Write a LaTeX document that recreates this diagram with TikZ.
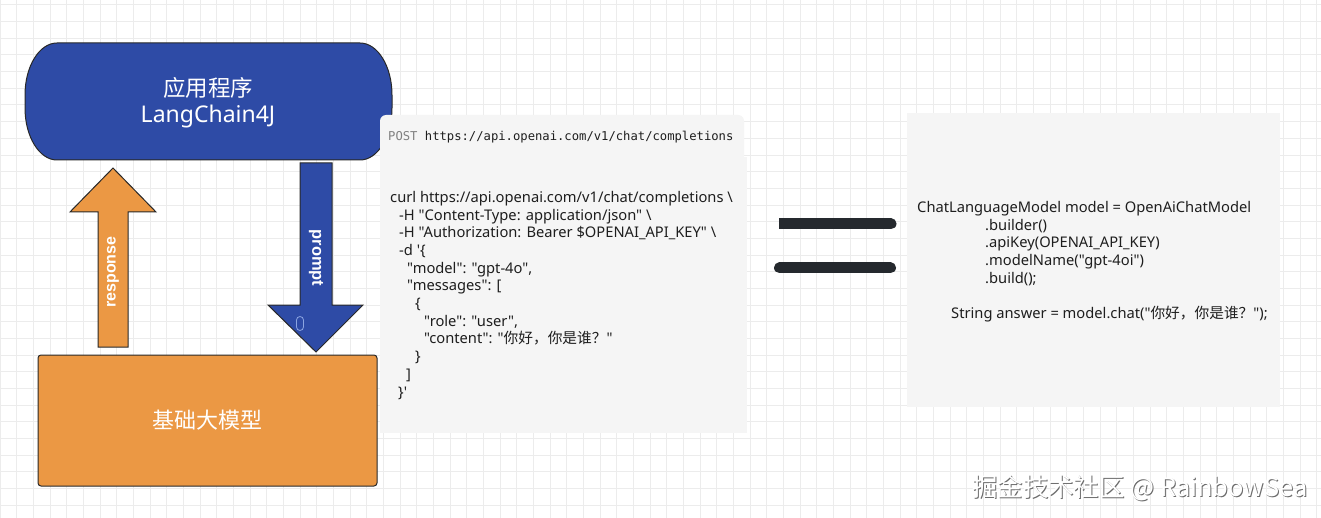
\documentclass[tikz,border=0pt]{standalone}
\usepackage{fontspec}
\setmainfont{Noto Sans}
\newfontfamily\cjkfont{Noto Sans CJK SC}
\newfontfamily\codefont{Noto Sans}
\newfontfamily\mymono{DejaVu Sans Mono}
\newfontfamily\labelfont{Liberation Sans}
\definecolor{appblue}{RGB}{46,75,166}
\definecolor{llmorange}{RGB}{235,152,68}
\definecolor{edgedark}{RGB}{40,40,40}
\definecolor{gridcol}{RGB}{236,236,236}
\definecolor{codebg}{RGB}{245,245,245}
\definecolor{codetextcol}{RGB}{30,30,30}
\definecolor{eqcol}{RGB}{37,41,46}
\definecolor{capsule}{RGB}{140,165,225}
\tikzset{
  gridline/.style={draw=gridcol, line width=1pt},
  blockarrow/.style={draw=edgedark, line width=1pt, line join=miter},
  whitelabel/.style={text=white, inner sep=0pt},
  codebox/.style={fill=codebg, draw=none},
  codetext/.style={text=codetextcol, align=left, inner sep=0pt, anchor=north west,
    font=\codefont\fontsize{14.7}{17.7}\selectfont},
  eqbar/.style={draw=eqcol, line width=11pt}
}
\begin{document}
\begin{tikzpicture}[x=1pt,y=-1pt]
\useasboundingbox (0,0) rectangle (1321,518);
\fill[white] (0,0) rectangle (1321,518);
% grid
\foreach \i in {0,...,79} \draw[gridline] ({\i*16.667},0) -- ({\i*16.667},518);
\foreach \j in {0,...,30} \draw[gridline] (0,{5+\j*16.667}) -- (1321,{5+\j*16.667});

% application box (stadium-like)
\draw[fill=appblue, draw=edgedark, line width=1pt]
  (57,43) -- (360,43) arc[start angle=-90, end angle=0, x radius=32, y radius=52]
  -- (392,108) arc[start angle=0, end angle=90, x radius=32, y radius=52]
  -- (57,160) arc[start angle=90, end angle=180, x radius=32, y radius=52]
  -- (25,95) arc[start angle=180, end angle=270, x radius=32, y radius=52] -- cycle;
\node[whitelabel, align=center] (app) at (208,103)
  {{\cjkfont\fontsize{22.5}{30}\selectfont 应用程序}\\[6pt]{\fontsize{23}{30}\selectfont LangChain4J}};

% response arrow (up, orange)
\draw[blockarrow, fill=llmorange]
  (98,347) -- (98,212) -- (70,212) -- (113,168) -- (156,212) -- (128,212) -- (128,347) -- cycle;
\node[whitelabel, rotate=90, font=\labelfont\bfseries\fontsize{16}{18}\selectfont] (resp) at (113,272) {response};

% prompt arrow (down, blue)
\draw[blockarrow, fill=appblue]
  (300,163) -- (332,163) -- (332,305) -- (363,305) -- (316,352) -- (268,305) -- (300,305) -- cycle;
\node[whitelabel, rotate=-90, font=\labelfont\bfseries\fontsize{16.5}{18}\selectfont] (prm) at (316,258) {prompt};
\draw[capsule, line width=0.8pt, rounded corners=3.5pt] (296.5,316.5) rectangle (303.5,330.5);

% foundation model box
\node[draw=edgedark, fill=llmorange, line width=1pt, rounded corners=3pt,
  minimum width=339pt, minimum height=131pt, inner sep=0pt] (llm) at (207.5,420.5) {};
\node[whitelabel, font=\cjkfont\fontsize{22}{26}\selectfont] (llmtxt) at (llm.center) {基础大模型};

% POST header
\fill[codebox, rounded corners=6pt] (380,115) rectangle (744,162);
\fill[codebox] (380,157) rectangle (747,433);
\node[inner sep=0pt, anchor=west, font=\mymono\fontsize{12.2}{14}\selectfont] (post) at (388,137)
  {\textcolor{gray}{POST} \textcolor{codetextcol}{https://api.openai.com/v1/chat/completions}};

% curl code
\node[codetext] (curl) at (390,191) {%
curl https://api.openai.com/v1/chat/completions \textbackslash\\
\hspace*{9pt}-H "Content-Type: application/json" \textbackslash\\
\hspace*{9pt}-H "Authorization: Bearer \$OPENAI\_API\_KEY" \textbackslash\\
\hspace*{9pt}-d '\{\\
\hspace*{17pt}"model": "gpt-4o",\\
\hspace*{17pt}"messages": [\\
\hspace*{25pt}\{\\
\hspace*{34pt}"role": "user",\\
\hspace*{34pt}"content": "{\cjkfont 你好，你是谁？}"\\
\hspace*{25pt}\}\\
\hspace*{16pt}]\\
\hspace*{8pt}\}'};

% equals sign
\draw[eqbar, line cap=round] (785,224) -- (891,224);
\draw[eqbar] (779,224) -- (790,224);
\draw[eqbar, line cap=round] (779.5,268) -- (890.5,268);

% java code box
\fill[codebox] (907,113) rectangle (1280,407);
\node[codetext] (java) at (917,201) {%
ChatLanguageModel model = OpenAiChatModel\\
\hspace*{68pt}.builder()\\
\hspace*{68pt}.apiKey(OPENAI\_API\_KEY)\\
\hspace*{68pt}.modelName("gpt-4oi")\\
\hspace*{68pt}.build();\\
\mbox{}\\
\hspace*{34pt}String answer = model.chat("{\cjkfont 你好，你是谁？}");};

% watermark
\node[inner sep=0pt, anchor=west, text=gray!85!black, font=\cjkfont\fontsize{25.4}{30}\selectfont] (wmshadow) at (973,489) {掘金技术社区 @ RainbowSea};
\node[inner sep=0pt, anchor=west, text=white, font=\cjkfont\fontsize{25.4}{30}\selectfont] (wm) at (972,488) {掘金技术社区 @ RainbowSea};
\end{tikzpicture}
\end{document}
